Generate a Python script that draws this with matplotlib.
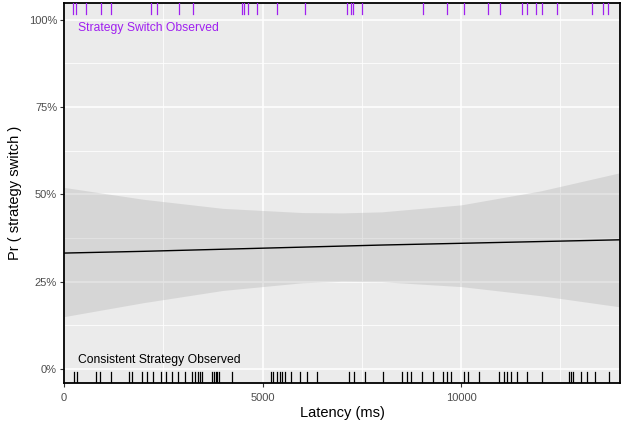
import numpy as np
import matplotlib
matplotlib.use("Agg")
import matplotlib.pyplot as plt
from matplotlib.ticker import FuncFormatter, MultipleLocator

plt.rcParams['font.family'] = ['Liberation Sans', 'DejaVu Sans']

# latencies (ms) of trials where the strategy was switched / kept
switch_ms = [227, 302, 554, 932, 1184, 2191, 2343, 2897, 3249, 4484, 4520, 4635,
             4861, 5365, 6071, 7129, 7229, 7280, 7506, 9043, 9648, 10076, 10680,
             10983, 11537, 11663, 11890, 12041, 12419, 13300, 13577, 13703]
consistent_ms = [252, 327, 806, 907, 1184, 1637, 1713, 1965, 2091, 2242, 2443,
                 2569, 2720, 2872, 3048, 3224, 3300, 3375, 3426, 3476, 3728, 3778,
                 3829, 3854, 3904, 4232, 5214, 5264, 5365, 5441, 5491, 5567, 5718,
                 5945, 6121, 6373, 7179, 7305, 7582, 8036, 8514, 8640, 8741, 9018,
                 9295, 9547, 9648, 9748, 10076, 10177, 10454, 10958, 11084, 11159,
                 11260, 11411, 11663, 12041, 12721, 12771, 12822, 13023, 13174,
                 13376, 13728]

# fitted probability with confidence band
fit_x = [0, 2000, 4000, 6000, 7000, 8000, 10000, 12000, 14000]
fit_y = [0.332, 0.337, 0.343, 0.349, 0.352, 0.355, 0.360, 0.365, 0.370]
fit_lo = [0.150, 0.190, 0.225, 0.247, 0.251, 0.250, 0.236, 0.210, 0.178]
fit_hi = [0.520, 0.486, 0.460, 0.448, 0.447, 0.450, 0.470, 0.510, 0.562]

fig = plt.figure(figsize=(6.21, 4.25), dpi=100)
ax = fig.add_axes([64 / 621, 1 - 383 / 425, 556 / 621, 380 / 425])
ax.set_facecolor('#EBEBEB')

ax.set_xlim(0, 14000)
ax.set_ylim(-0.04, 1.048)

ax.xaxis.set_major_locator(MultipleLocator(5000))
ax.xaxis.set_minor_locator(MultipleLocator(2500))
ax.yaxis.set_major_locator(MultipleLocator(0.25))
ax.yaxis.set_minor_locator(MultipleLocator(0.125))
ax.grid(which='major', color='white', linewidth=1.1)
ax.grid(which='minor', color='white', linewidth=0.55)
ax.set_axisbelow(True)

ax.fill_between(fit_x, fit_lo, fit_hi, color='#999999', alpha=0.25,
                linewidth=0, zorder=2)
ax.plot(fit_x, fit_y, color='black', linewidth=1.0, zorder=3)

for v in switch_ms:
    ax.axvline(v, ymin=0.97, ymax=1.0, color='#A020F0', linewidth=0.9, zorder=4)
for v in consistent_ms:
    ax.axvline(v, ymin=0.0, ymax=0.03, color='black', linewidth=0.9, zorder=4)

ax.text(350, 0.975, 'Strategy Switch Observed', color='#A020F0', fontsize=8.75,
        ha='left', va='center', zorder=5)
ax.text(350, 0.025, 'Consistent Strategy Observed', color='black', fontsize=8.75,
        ha='left', va='center', zorder=5)

ax.yaxis.set_major_formatter(FuncFormatter(lambda v, p: '%d%%' % round(v * 100)))
ax.tick_params(which='major', length=3, width=0.8, color='#333333',
               labelcolor='#4D4D4D', labelsize=8, pad=2)
ax.tick_params(axis='x', which='major', pad=4)
ax.tick_params(which='minor', length=0)

for s in ax.spines.values():
    s.set_color('black')
    s.set_linewidth(1.3)

ax.set_xlabel('Latency (ms)', fontsize=10.5, labelpad=2)
ax.set_ylabel('Pr ( strategy switch )', fontsize=10.5, labelpad=5)

fig.savefig('out.png', dpi=100)
